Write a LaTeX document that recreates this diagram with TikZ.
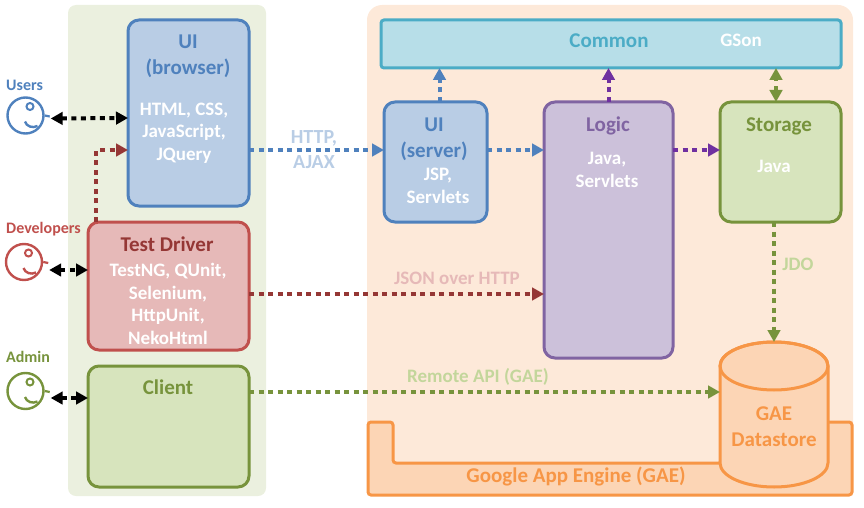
\documentclass[tikz,border=0pt]{standalone}
\usepackage{fontspec}
\setmainfont{Carlito}
\definecolor{mBlue}{HTML}{4F81BD}
\definecolor{mBlueFill}{HTML}{B9CDE5}
\definecolor{mRed}{HTML}{C0504D}
\definecolor{mRedFill}{HTML}{E6B9B8}
\definecolor{mDarkRed}{HTML}{953735}
\definecolor{mGreen}{HTML}{77933C}
\definecolor{mGreenFill}{HTML}{D7E4BD}
\definecolor{mGreenText}{HTML}{C3D69B}
\definecolor{mPurple}{HTML}{8064A2}
\definecolor{mPurpleFill}{HTML}{CCC1DA}
\definecolor{mDarkPurple}{HTML}{7030A0}
\definecolor{mCyan}{HTML}{4BACC6}
\definecolor{mCyanFill}{HTML}{B7DEE8}
\definecolor{mOrange}{HTML}{F79646}
\definecolor{mOrangeFill}{HTML}{FCD5B5}
\definecolor{mPanelGreen}{HTML}{EBF0DF}
\definecolor{mPanelOrange}{HTML}{FDE9D9}
\usetikzlibrary{arrows.meta}
\tikzset{
 compbox/.style={draw=#1, line width=3pt, rounded corners=11pt, inner sep=0pt, outer sep=0pt},
 headtxt/.style={font=\fontsize{21}{26}\selectfont\bfseries, align=center, text=#1},
 bodytxt/.style={font=\fontsize{19}{22.7}\selectfont\bfseries, align=center, text=white},
 linktxt/.style={font=\fontsize{19}{25}\selectfont\bfseries, align=center, text=#1},
 whotxt/.style={font=\fontsize{16}{18}\selectfont\bfseries, anchor=west, inner sep=0pt, text=#1},
 flow/.style={draw=#1, line width=4pt, dash pattern=on 5pt off 4.5pt, -{Triangle[length=12pt,width=12.5pt,fill=#1]}},
 bothflow/.style={flow=#1, {Triangle[length=12pt,width=12.5pt,fill=#1]}-{Triangle[length=12pt,width=12.5pt,fill=#1]}}
}
% x, y, width, height, name, draw colour, fill colour
\newcommand{\cbox}[7]{%
 \node[compbox=#6, fill=#7, minimum width=#3pt, minimum height=#4pt, anchor=north west] (#5) at (#1,#2) {};}
% x, y, name, colour, text, text y
\newcommand{\anode}[6]{%
 \node[whotxt=#4] (#3t) at (6,#6) {#5};
 \node[circle, draw=#4, line width=2.4pt, minimum size=36pt, inner sep=0pt] (#3) at (#1,#2) {};
 \node[circle, draw=#4, line width=2pt, minimum size=7pt, inner sep=0pt] (#3e) at (#1+4.5,#2-9) {};
 \draw[#4, line width=2.4pt] (#1-.5,#2+6) .. controls (#1+1,#2+11) and (#1+7,#2+13) .. (#1+12,#2+10.5);
 \draw[#4, line width=2.2pt] (#3.east) -- ++(5,1);}

\begin{document}
\begin{tikzpicture}[x=1pt,y=-1pt]
\useasboundingbox (0,0) rectangle (864,508);
\fill[mPanelGreen, rounded corners=8pt] (68,5) rectangle (266,496);
\fill[mPanelOrange, rounded corners=15pt] (367,5) rectangle (853,496);
\anode{25.5}{115.5}{usr}{mBlue}{Users}{85}
\anode{24}{262}{dev}{mRed}{Developers}{229}
\anode{25.5}{391}{adm}{mGreen}{Admin}{357}
\cbox{128}{20}{121}{186}{uib}{mBlue}{mBlueFill}
\cbox{88}{222}{161}{128}{drv}{mRed}{mRedFill}
\cbox{88}{366}{161}{121}{cli}{mGreen}{mGreenFill}
\node[compbox=mCyan, fill=mCyanFill, rounded corners=3pt, minimum width=460pt, minimum height=48pt, anchor=north west] (com) at (381,20) {};
\cbox{384}{102}{103}{120}{uis}{mBlue}{mBlueFill}
\cbox{544}{102}{129}{256}{log}{mPurple}{mPurpleFill}
\cbox{720}{102}{121}{120}{sto}{mGreen}{mGreenFill}
\draw[mOrange, fill=mOrangeFill, line width=3pt, rounded corners=3pt] (368,422) -- (393,422) -- (393,463) -- (722,463) -- (722,422) -- (852,422) -- (852,495) -- (368,495) -- cycle;
% datastore: the drum is drawn over a bare node
\node[minimum width=108pt, minimum height=145pt, inner sep=0pt, outer sep=0pt] (gds) at (774,414.5) {};
\draw[mOrange, fill=mOrangeFill, line width=3pt] (720,366) -- (720,463) arc[start angle=180, end angle=360, x radius=54pt, y radius=24pt] -- (828,366) arc[start angle=0, end angle=180, x radius=54pt, y radius=24pt] -- cycle;
\draw[mOrange, line width=3pt] (774,366) ellipse[x radius=54pt, y radius=24pt];
% texts in the boxes
\node[headtxt=mBlue] (uibh) at (188,56) {UI\\(browser)};
\node[bodytxt] (uibb) at (184,133) {HTML, CSS,\\JavaScript,\\JQuery};
\node[headtxt=mDarkRed] (drvh) at (167,244) {Test Driver};
\node[bodytxt] (drvb) at (168,304) {TestNG, QUnit,\\Selenium,\\HttpUnit,\\NekoHtml};
\node[headtxt=mGreen] (clih) at (168,387) {Client};
\node[headtxt=mCyan] (comh) at (609,41) {Common};
\node[bodytxt] (comb) at (741,40) {GSon};
\node[headtxt=mBlue] (uish) at (434,139) {UI\\(server)};
\node[bodytxt] (uisb) at (438,186) {JSP,\\Servlets};
\node[headtxt=mPurple] (logh) at (608,126) {Logic};
\node[bodytxt] (logb) at (607,170) {Java,\\Servlets};
\node[headtxt=mGreen] (stoh) at (779,126) {Storage};
\node[bodytxt] (stob) at (774,166) {Java};
\node[headtxt=mOrange] (gdsh) at (774,427) {GAE\\Datastore};
\node[headtxt=mOrange] (gae) at (576,476) {Google App Engine (GAE)};
% links
\draw[bothflow=black] ([yshift=-3pt,xshift=6pt]usr.east) -- ([yshift=-5pt]uib.west);
\draw[bothflow=black] ([yshift=-8pt,xshift=6pt]dev.east) -- ([yshift=16pt]drv.west);
\draw[bothflow=black] ([yshift=-7pt,xshift=6pt]adm.east) -- ([yshift=28.5pt]cli.west);
\draw[flow=mDarkRed] ([xshift=-72.5pt]drv.north) -- ++(0,-72) -- ([yshift=-37pt]uib.west);
\draw[flow=mBlue] ([yshift=-37pt]uib.east) -- (uis.west |- 0,150);
\draw[flow=mBlue] ([yshift=12pt]uis.east) -- (log.west |- 0,150);
\draw[flow=mDarkPurple] (log.east |- 0,150) -- ([yshift=12pt]sto.west);
\draw[flow=mDarkRed] (drv.east |- 0,294) -- (log.west |- 0,294);
\draw[flow=mGreen] (cli.east |- 0,392) -- (gds.west |- 0,392);
\draw[flow=mBlue] ([xshift=4pt]uis.north) -- ([xshift=4pt]uis.north |- com.south);
\draw[flow=mDarkPurple] (log.north) -- (log.north |- com.south);
\draw[bothflow=mGreen] ([xshift=-4.5pt]sto.north) -- ([xshift=-4.5pt]sto.north |- com.south);
\draw[flow=mGreen] (gds.north |- sto.south) -- (gds.north);
% link labels
\node[linktxt=mBlueFill, font=\fontsize{20}{25}\selectfont\bfseries] (http) at (314,150) {HTTP,\\AJAX};
\node[linktxt=mRedFill] (json) at (457,278) {JSON over HTTP};
\node[linktxt=mGreenText] (rapi) at (478,377) {Remote API (GAE)};
\node[linktxt=mGreenText] (jdo) at (798,264) {JDO};
\end{tikzpicture}
\end{document}
